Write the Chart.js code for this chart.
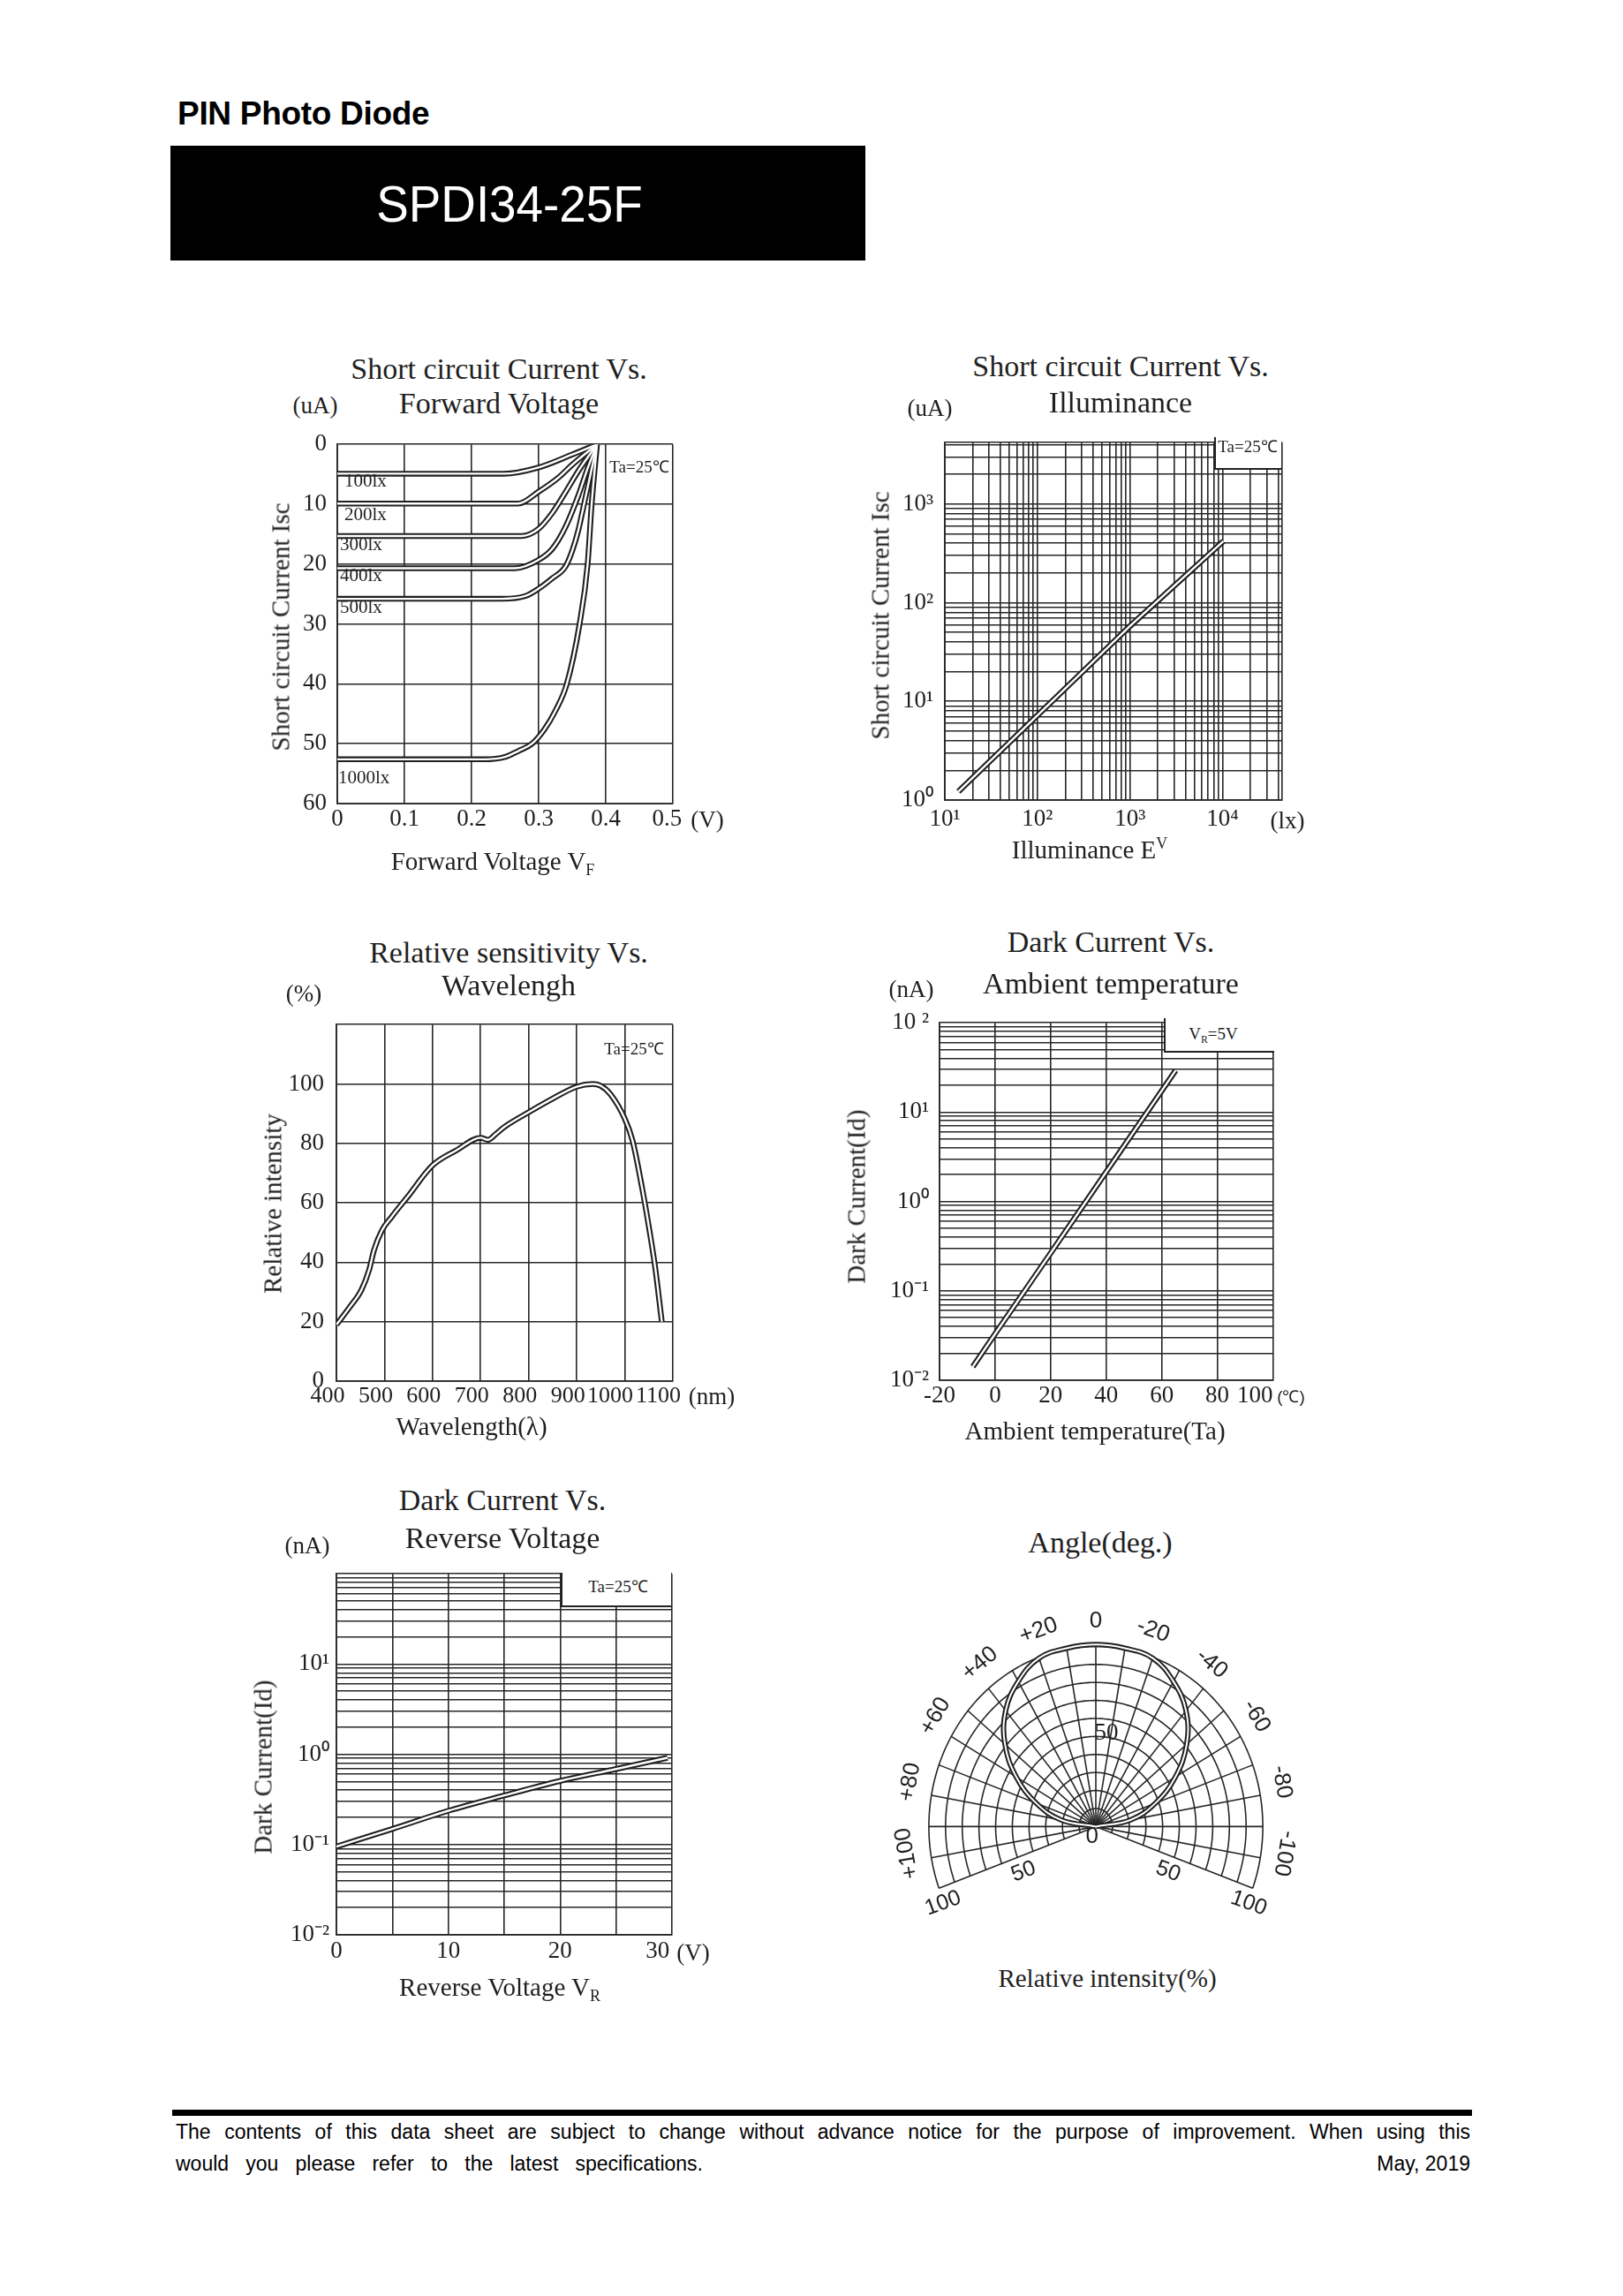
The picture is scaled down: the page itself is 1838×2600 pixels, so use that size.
<!DOCTYPE html>
<html><head><meta charset="utf-8"><title>SPDI34-25F</title>
<script src="https://cdn.jsdelivr.net/npm/chart.js@4.4.1/dist/chart.umd.min.js"></script>
<style>
html,body{margin:0;padding:0;background:#fff}
body{position:relative;width:1838px;height:2600px;overflow:hidden;color:#1f1f1f;font-family:'Liberation Serif','Times New Roman',Times,serif}
canvas{position:absolute}
.t{position:absolute;white-space:nowrap;line-height:1;transform:translate(-50%,-50%)}
.l{position:absolute;white-space:nowrap;line-height:1;transform:translateY(-50%)}
.v{position:absolute;white-space:nowrap;line-height:1;transform:translate(-50%,-50%) rotate(-90deg)}
.h1{font-size:34px}
.ax{font-size:29px}
.un{font-size:27px}
.sm{font-size:19px}
.lx{font-size:21px}
.note{position:absolute;background:#fff;border-left:2px solid #222;border-bottom:2px solid #222;box-sizing:border-box}
sub,sup{font-size:62%;line-height:0}
.sans{font-family:'Liberation Sans',Arial,Helvetica,sans-serif}
.foot{position:absolute;font:23px 'Liberation Sans',Arial,sans-serif;line-height:1;color:#000;white-space:nowrap}
</style></head><body>
<div id="charts"></div>

<!-- header -->
<div style="position:absolute;left:201px;top:110px;font:bold 37px 'Liberation Sans',Arial,sans-serif;line-height:1;letter-spacing:-0.3px;color:#000">PIN Photo Diode</div>
<div style="position:absolute;left:193px;top:165px;width:787px;height:130px;background:#000"></div>
<div class="t" style="left:577px;top:231px;color:#fff;font:58px 'Liberation Sans',Arial,sans-serif;line-height:1;transform:translate(-50%,-50%) scaleX(0.945)">SPDI34-25F</div>

<!-- chart 1 texts -->
<div class="t h1" style="left:565px;top:418px">Short circuit Current Vs.</div>
<div class="t h1" style="left:565px;top:457px">Forward Voltage</div>
<div class="t un" style="left:357px;top:459px">(uA)</div>
<div class="t sm" style="left:724px;top:528px">Ta=25℃</div>
<div class="l lx" style="left:390px;top:544px">100lx</div>
<div class="l lx" style="left:390px;top:582px">200lx</div>
<div class="l lx" style="left:385px;top:616px">300lx</div>
<div class="l lx" style="left:385px;top:651px">400lx</div>
<div class="l lx" style="left:385px;top:687px">500lx</div>
<div class="l lx" style="left:383px;top:880px">1000lx</div>
<div class="t un" style="left:801px;top:928px">(V)</div>
<div class="t ax" style="left:558px;top:975px">Forward Voltage V<sub>F</sub></div>
<div class="v ax" style="left:318px;top:710px">Short circuit Current Isc</div>

<!-- chart 2 texts -->
<div class="t h1" style="left:1269px;top:415px">Short circuit Current Vs.</div>
<div class="t h1" style="left:1269px;top:456px">Illuminance</div>
<div class="t un" style="left:1053px;top:462px">(uA)</div>
<div class="note" style="left:1375px;top:495px;width:76px;height:37px"></div>
<div class="t sm" style="left:1413px;top:505px">Ta=25℃</div>
<div class="v ax" style="left:997px;top:697px">Short circuit Current Isc</div>
<div class="t un" style="left:1458px;top:929px">(lx)</div>
<div class="t ax" style="left:1234px;top:962px">Illuminance E<sup>V</sup></div>

<!-- chart 3 texts -->
<div class="t h1" style="left:576px;top:1079px">Relative sensitivity Vs.</div>
<div class="t h1" style="left:576px;top:1116px">Wavelengh</div>
<div class="t un" style="left:344px;top:1125px">(%)</div>
<div class="t sm" style="left:718px;top:1187px">Ta=25℃</div>
<div class="t un" style="left:806px;top:1581px">(nm)</div>
<div class="t ax" style="left:534px;top:1615px">Wavelength(λ)</div>
<div class="v ax" style="left:309px;top:1363px">Relative intensity</div>

<!-- chart 4 texts -->
<div class="t h1" style="left:1258px;top:1067px">Dark Current Vs.</div>
<div class="t h1" style="left:1258px;top:1114px">Ambient temperature</div>
<div class="t un" style="left:1032px;top:1120px">(nA)</div>
<div class="note" style="left:1318px;top:1153px;width:125px;height:39px"></div>
<div class="t sm" style="left:1374px;top:1170px">V<sub>R</sub>=5V</div>
<div class="t sans" style="left:1462px;top:1581px;font-size:19px">(℃)</div>
<div class="t ax" style="left:1240px;top:1620px">Ambient temperature(Ta)</div>
<div class="v ax" style="left:970px;top:1355px">Dark Current(Id)</div>

<!-- chart 5 texts -->
<div class="t h1" style="left:569px;top:1699px">Dark Current Vs.</div>
<div class="t h1" style="left:569px;top:1742px">Reverse Voltage</div>
<div class="t un" style="left:348px;top:1750px">(nA)</div>
<div class="note" style="left:635px;top:1781px;width:125px;height:39px"></div>
<div class="t sm" style="left:700px;top:1796px">Ta=25℃</div>
<div class="t un" style="left:785px;top:2211px">(V)</div>
<div class="t ax" style="left:566px;top:2250px">Reverse Voltage V<sub>R</sub></div>
<div class="v ax" style="left:298px;top:2001px">Dark Current(Id)</div>

<!-- chart 6 texts -->
<div class="t h1" style="left:1246px;top:1747px">Angle(deg.)</div>
<div class="t ax" style="left:1254px;top:2240px">Relative intensity(%)</div>

<!-- footer -->
<div style="position:absolute;left:195px;top:2389px;width:1472px;height:7px;background:#000"></div>
<div class="foot" style="left:199px;top:2403px;width:1466px;text-align:justify;text-align-last:justify;white-space:normal">The contents of this data sheet are subject to change without advance notice for the purpose of improvement. When using this</div>
<div class="foot" style="left:199px;top:2439px;width:597px;text-align:justify;text-align-last:justify;white-space:normal">would you please refer to the latest specifications.</div>
<div class="foot" style="right:173px;top:2439px">May, 2019</div>

<script>
const SERIF = "'Liberation Serif','Times New Roman',Times,serif";
const SANS = "'Liberation Sans',Arial,Helvetica,sans-serif";
const INK = '#1f1f1f';
const GRID = '#262626';

// ---------------- Chart 1: Short circuit current vs forward voltage
const c1XTicks = [0, 0.1, 0.2, 0.3, 0.4, 0.5];
const c1XTickLabels = ['0', '0.1', '0.2', '0.3', '0.4', '0.5\u2002'];
const c1YTicks = [0, 10, 20, 30, 40, 50, 60];
const c1YTickLabels = ['0', '10', '20', '30', '40', '50', '60'];
const vf100 = [0, 0.248, 0.30, 0.35, 0.387];
const isc100 = [4.9, 4.9, 3.85, 1.7, 0];
const vf200 = [0, 0.269, 0.30, 0.33, 0.35, 0.387];
const isc200 = [9.9, 9.9, 7.9, 5.5, 3.4, 0];
const vf300 = [0, 0.275, 0.30, 0.32, 0.34, 0.36, 0.387];
const isc300 = [15.3, 15.3, 14.1, 11.5, 8.0, 4.3, 0];
const vf400 = [0, 0.265, 0.30, 0.32, 0.34, 0.359, 0.373, 0.387];
const isc400 = [20.7, 20.7, 19.3, 17.5, 13.8, 8.6, 4.0, 0];
const vf500 = [0, 0.245, 0.281, 0.30, 0.32, 0.34, 0.35, 0.359, 0.368, 0.378, 0.387];
const isc500 = [25.8, 25.8, 25.3, 24.1, 22.4, 20.4, 17.8, 14.4, 9.8, 4.6, 0];
const vf1000 = [0, 0.22, 0.25, 0.27, 0.29, 0.308, 0.325, 0.342, 0.361, 0.373, 0.379, 0.387];
const isc1000 = [52.6, 52.6, 52.2, 51.2, 50, 47.7, 44.5, 40, 30, 20, 10, 0];

// ---------------- Chart 2: Short circuit current vs illuminance (log-log)
const c2XDecades = [10, 100, 1000, 10000];
const c2XDecadeLabels = ['10¹', '10²', '10³', '10⁴'];
const c2XMax = 44000;
const c2YDecades = [1, 10, 100, 1000];
const c2YDecadeLabels = ['10⁰', '10¹', '10²', '10³'];
const c2YMax = 4200;
const illum = [14, 100, 1000, 10200];
const iscIllum = [1.22, 7.2, 58, 420];

// ---------------- Chart 3: Relative sensitivity vs wavelength
const c3XTicks = [400, 500, 600, 700, 800, 900, 1000, 1100];
const c3XTickLabels = ['400', '500', '600', '700', '800', '900', '1000\u2002', '1100\u2002'];
const c3YTicks = [0, 20, 40, 60, 80, 100, 120];
const c3YTickLabels = ['0', '20', '40', '60', '80', '100', ''];
const wavelength = [400, 428, 452, 468, 478, 495, 515, 548, 600, 650, 700, 715, 732, 749, 800, 849, 900, 933, 950, 970, 1000, 1016, 1036, 1050, 1063, 1077];
const relSens = [19, 25, 30.7, 37.4, 44, 50.8, 55.3, 62, 72.6, 77.7, 81.9, 81.2, 83.2, 85.5, 90.5, 95, 99.1, 100, 99.4, 96.6, 88.3, 81, 65, 52, 38.5, 20];

// ---------------- Chart 4: Dark current vs ambient temperature
const c4XTicks = [-20, 0, 20, 40, 60, 80, 100];
const c4XTickLabels = ['-20', '0', '20', '40', '60', '80', '100\u2003\u2002'];
const c4YDecades = [0.01, 0.1, 1, 10, 100];
const c4YDecadeLabels = ['10⁻²', '10⁻¹', '10⁰', '10¹', '10 ²'];
const ambTemp = [-8, 0, 20, 40, 65];
const darkTemp = [0.0142, 0.033, 0.265, 2.14, 29.3];

// ---------------- Chart 5: Dark current vs reverse voltage
const c5XTicks = [0, 5, 10, 15, 20, 25, 30];
const c5XTickLabels = ['0', '', '10', '', '20', '', '30\u2003\u2009'];
const c5YDecades = [0.01, 0.1, 1, 10, 100];
const c5YDecadeLabels = ['10⁻²', '10⁻¹', '10⁰', '10¹', ''];
const revVolt = [0, 5, 10, 15, 20, 25, 29.6];
const darkVolt = [0.095, 0.149, 0.237, 0.35, 0.507, 0.687, 0.916];

// ---------------- Chart 6: Angular response (polar)
const polarAngle = [-90, -80, -70, -60, -50, -40, -30, -20, -10, 0, 10, 20, 30, 40, 50, 60, 70, 80, 90];
const polarIntensity = [0, 21, 38, 55, 71, 84, 93, 99.5, 100.5, 101, 100.5, 99.5, 93, 84, 71, 55, 38, 21, 0];
const polarRings = [10, 20, 30, 40, 50, 60, 70, 80, 90, 100];
const polarSpokes = [-110, -100, -90, -80, -70, -60, -50, -40, -30, -20, -10, 0, 10, 20, 30, 40, 50, 60, 70, 80, 90, 100, 110];
const polarAngleTicks = [100, 80, 60, 40, 20, 0, -20, -40, -60, -80, -100];
const polarAngleLabels = ['+100', '+80', '+60', '+40', '+20', '0', '-20', '-40', '-60', '-80', '-100'];
const polarEdgeTicks = [50, 100];
const polarEdgeLabels = ['50', '100'];

// ---------------- helpers
function mount(L, T, R, B, pad) {
  const c = document.createElement('canvas');
  const w = R - L + pad.l + pad.r, h = B - T + pad.t + pad.b;
  c.width = w; c.height = h;
  c.style.left = (L - pad.l) + 'px'; c.style.top = (T - pad.t) + 'px';
  c.style.width = w + 'px'; c.style.height = h + 'px';
  document.getElementById('charts').appendChild(c);
  return c;
}
function logGrid(decades, labels, max) {
  const vals = [], labs = [];
  decades.forEach((d, k) => {
    for (let m = 1; m <= 9; m++) {
      const v = +(d * m).toPrecision(8);
      if (v <= max * 1.0000001) { vals.push(v); labs.push(m === 1 ? labels[k] : ''); }
    }
  });
  if (Math.abs(vals[vals.length - 1] - max) > max * 1e-6) { vals.push(max); labs.push(''); }
  return { ticks: vals, labels: labs };
}
function axis(kind, o) {
  return {
    type: o.type || 'linear',
    position: kind === 'x' ? 'bottom' : 'left',
    min: o.min, max: o.max, reverse: !!o.reverse,
    grid: { color: GRID, lineWidth: 1.6, drawTicks: false },
    border: { display: true, color: GRID, width: 1.8 },
    ticks: {
      autoSkip: false, maxRotation: 0, minRotation: 0, padding: o.pad, labelOffset: o.off || 0,
      font: { family: SERIF, size: o.size || 27 }, color: INK,
      callback: (v, i) => o.labels[i]
    },
    afterBuildTicks: s => { s.ticks = o.ticks.map(v => ({ value: v })); },
    afterFit: s => { if (kind === 'x') s.height = o.fit; else s.width = o.fit; }
  };
}
function curve(xs, ys, interp) {
  const mk = () => xs.map((x, i) => ({ x, y: ys[i] }));
  const common = {
    pointRadius: 0, fill: false, showLine: true,
    tension: interp === 'straight' ? 0 : 0.4,
    cubicInterpolationMode: interp === 'mono' ? 'monotone' : 'default'
  };
  return [
    { ...common, data: mk(), borderColor: INK, borderWidth: 6.5, order: 2 },
    { ...common, data: mk(), borderColor: '#ffffff', borderWidth: 2.4, order: 1 }
  ];
}
function xyChart(L, T, R, B, pad, xo, yo, datasets) {
  const cv = mount(L, T, R, B, pad);
  xo.fit = pad.b; yo.fit = pad.l;
  return new Chart(cv, {
    type: 'line',
    data: { datasets },
    options: {
      responsive: false, animation: false, devicePixelRatio: 1,
      layout: { padding: { left: 0, top: pad.t, right: pad.r, bottom: 0 } },
      plugins: { legend: { display: false }, tooltip: { enabled: false } },
      scales: { x: axis('x', xo), y: axis('y', yo) }
    }
  });
}

// ---------------- Chart 1
xyChart(382, 497, 762, 910, { l: 75, t: 22, r: 40, b: 50 },
  { min: 0, max: 0.5, ticks: c1XTicks, labels: c1XTickLabels, pad: 2 },
  { min: 0, max: 60, reverse: true, ticks: c1YTicks, labels: c1YTickLabels, pad: 12 },
  [].concat(
    curve(vf100, isc100, 'mono'), curve(vf200, isc200, 'mono'), curve(vf300, isc300, 'mono'),
    curve(vf400, isc400, 'mono'), curve(vf500, isc500, 'mono'), curve(vf1000, isc1000, 'mono')));

// ---------------- Chart 2
const g2x = logGrid(c2XDecades, c2XDecadeLabels, c2XMax);
const g2y = logGrid(c2YDecades, c2YDecadeLabels, c2YMax);
xyChart(1070, 494, 1452, 906, { l: 80, t: 22, r: 40, b: 50 },
  { type: 'logarithmic', min: 10, max: c2XMax, ticks: g2x.ticks, labels: g2x.labels, pad: 6 },
  { type: 'logarithmic', min: 1, max: c2YMax, ticks: g2y.ticks, labels: g2y.labels, pad: 13 },
  curve(illum, iscIllum, 'straight'));

// ---------------- Chart 3
xyChart(381, 1152, 762, 1564, { l: 75, t: 22, r: 40, b: 50 },
  { min: 400, max: 1100, ticks: c3XTicks, labels: c3XTickLabels, pad: 2, off: -10, size: 26 },
  { min: 0, max: 120, ticks: c3YTicks, labels: c3YTickLabels, pad: 14 },
  curve(wavelength, relSens, 'mono'));

// ---------------- Chart 4
const g4y = logGrid(c4YDecades, c4YDecadeLabels, 100);
xyChart(1064, 1152, 1444, 1563, { l: 85, t: 22, r: 40, b: 50 },
  { min: -20, max: 100, ticks: c4XTicks, labels: c4XTickLabels, pad: 2 },
  { type: 'logarithmic', min: 0.01, max: 100, ticks: g4y.ticks, labels: g4y.labels, pad: 12 },
  curve(ambTemp, darkTemp, 'straight'));

// ---------------- Chart 5
const g5y = logGrid(c5YDecades, c5YDecadeLabels, 100);
xyChart(381, 1780, 761, 2191, { l: 80, t: 22, r: 40, b: 50 },
  { min: 0, max: 30, ticks: c5XTicks, labels: c5XTickLabels, pad: 3 },
  { type: 'logarithmic', min: 0.01, max: 100, ticks: g5y.ticks, labels: g5y.labels, pad: 8 },
  curve(revVolt, darkVolt, 'mono'));

// ---------------- Chart 6 (polar, drawn on linear x/y scales)
const rad = d => d * Math.PI / 180;
const polarPlugin = {
  id: 'polarGrid',
  beforeDatasetsDraw(chart) {
    const { ctx, scales: { x, y } } = chart;
    const P = (r, a) => [x.getPixelForValue(-r * Math.sin(rad(a))), y.getPixelForValue(r * Math.cos(rad(a)))];
    ctx.save();
    ctx.strokeStyle = GRID; ctx.lineWidth = 1.6;
    polarRings.forEach(r => {
      ctx.beginPath();
      for (let a = polarSpokes[0]; a <= polarSpokes[polarSpokes.length - 1]; a += 1) {
        const [X, Y] = P(r, a);
        if (a === polarSpokes[0]) ctx.moveTo(X, Y); else ctx.lineTo(X, Y);
      }
      ctx.stroke();
    });
    polarSpokes.forEach(a => {
      const [X0, Y0] = P(0, a), [X1, Y1] = P(polarRings[polarRings.length - 1], a);
      ctx.beginPath(); ctx.moveTo(X0, Y0); ctx.lineTo(X1, Y1); ctx.stroke();
    });
    ctx.restore();
  },
  afterDraw(chart) {
    const { ctx, scales: { x, y } } = chart;
    const P = (r, a) => [x.getPixelForValue(-r * Math.sin(rad(a))), y.getPixelForValue(r * Math.cos(rad(a)))];
    ctx.save();
    ctx.fillStyle = INK; ctx.textAlign = 'center'; ctx.textBaseline = 'middle';
    ctx.font = '26px ' + SANS;
    polarAngleTicks.forEach((a, i) => {
      const pos = a - Math.sign(a) * 2.5;
      const [X, Y] = P(114, pos);
      ctx.save(); ctx.translate(X, Y); ctx.rotate(-rad(a)); ctx.fillText(polarAngleLabels[i], 0, 0); ctx.restore();
    });
    ctx.font = '25px ' + SANS;
    polarEdgeTicks.forEach((r, i) => {
      const off = r === 50 ? 10 : 5;
      [1, -1].forEach(side => {
        const [X, Y] = P(r + (r === 100 ? 1 : 0), side * (110 + off));
        ctx.save(); ctx.translate(X, Y); ctx.rotate(side * -rad(20)); ctx.fillText(polarEdgeLabels[i], 0, 0); ctx.restore();
      });
    });
    ctx.font = '26px ' + SANS;
    ctx.fillText('0', x.getPixelForValue(-2.3), y.getPixelForValue(-5.5));
    ctx.font = '27px ' + SERIF;
    ctx.fillText('50', x.getPixelForValue(6.3), y.getPixelForValue(51.7));
    ctx.restore();
  }
};
const polarXY = (i) => ({ x: -polarIntensity[i] * Math.sin(rad(polarAngle[i])), y: polarIntensity[i] * Math.cos(rad(polarAngle[i])) });
const pcv = mount(1033, 1844, 1449, 2150, { l: 53, t: 54, r: 51, b: 40 });
const polarData = () => polarAngle.map((a, i) => polarXY(i));
new Chart(pcv, {
  type: 'scatter',
  data: {
    datasets: [
      { data: polarData(), showLine: true, pointRadius: 0, borderColor: INK, borderWidth: 6, tension: 0.4, order: 2 },
      { data: polarData(), showLine: true, pointRadius: 0, borderColor: '#ffffff', borderWidth: 2, tension: 0.4, order: 1 }
    ]
  },
  options: {
    responsive: false, animation: false, devicePixelRatio: 1,
    layout: { padding: { left: 53, top: 54, right: 51, bottom: 40 } },
    plugins: { legend: { display: false }, tooltip: { enabled: false } },
    scales: {
      x: { type: 'linear', min: -110, max: 110, display: false },
      y: { type: 'linear', min: -40, max: 110, display: false }
    }
  },
  plugins: [polarPlugin]
});
</script>
</body></html>
